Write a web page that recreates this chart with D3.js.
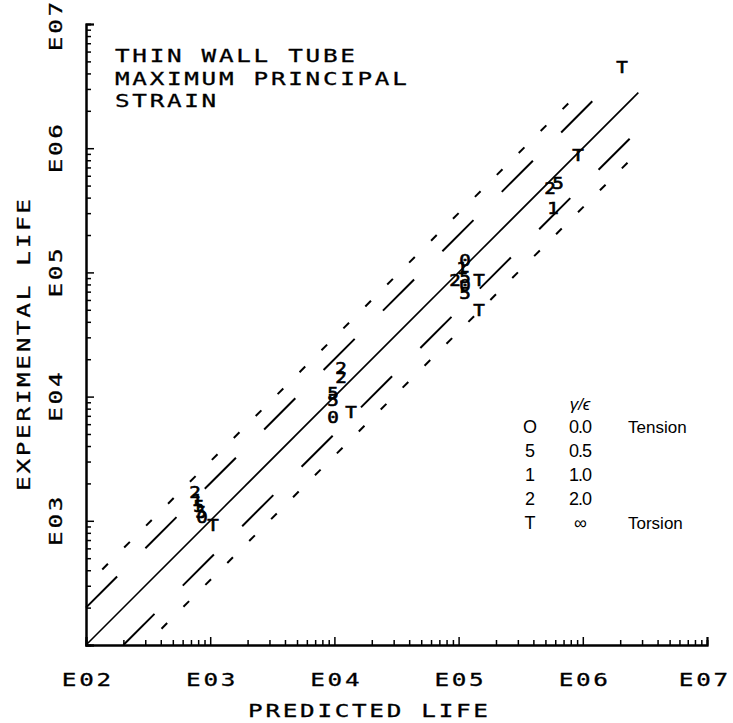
<!DOCTYPE html>
<html>
<head>
<meta charset="utf-8">
<script src="https://cdn.jsdelivr.net/npm/d3@7"></script>
<style>
  html, body { margin: 0; padding: 0; background: #fff; }
  svg { display: block; }
</style>
</head>
<body>
<svg id="chart" width="733" height="723"></svg>
<script>
// ---------------- data ----------------
const decadeValues = [1e2, 1e3, 1e4, 1e5, 1e6, 1e7];
const decadeLabels = ["E02", "E03", "E04", "E05", "E06", "E07"];
const titleLines = ["THIN WALL TUBE", "MAXIMUM PRINCIPAL", "STRAIN"];
const xTitle = "PREDICTED LIFE";
const yTitle = "EXPERIMENTAL LIFE";

// plotted symbol for each strain ratio series
const seriesSymbols = ["0", "5", "1", "2", "T"];
const legendSymbols = ["O", "5", "1", "2", "T"];
const seriesRatios = ["0.0", "0.5", "1.0", "2.0", "\u221E"];
const seriesNotes = ["Tension", "", "", "", "Torsion"];

const predicted0 = [859, 9743, 112600, 112600];
const experimental0 = [1073, 6850, 125800, 79160];
const predicted5 = [812, 843, 9743, 9743, 112600, 112600, 631400];
const experimental5 = [1316, 1177, 10690, 9390, 91830, 68270, 524600];
const predicted1 = [783, 106500, 575500];
const experimental1 = [1471, 108500, 330000];
const predicted2 = [754, 11300, 11300, 93550, 544400];
const experimental2 = [1706, 17000, 14380, 86860, 478300];
const predictedT = [1053, 13610, 146000, 146000, 915000, 2068000];
const experimentalT = [925, 7516, 86860, 49810, 881500, 4506000];

// scatter bands: experimental = factor * predicted
const bandFactors = [1, 2, 3, 0.5, 1 / 3];
const bandStyles = ["solid", "long", "short", "long", "short"];
const bandEndPredicted = [2.8e6, 1.25e6, 8.4e5, 2.95e6, 2.55e6];

// ---------------- drawing ----------------
const svg = d3.select("#chart");
const plotFont = "'DejaVu Sans Mono', monospace";
const plotSize = 18;
const plotSpacing = 2;
const plotStretch = 1.35;

function plotText(sel) {
  return sel.attr("font-family", plotFont).attr("font-size", plotSize)
    .attr("letter-spacing", plotSpacing + "px").attr("fill", "#000")
    .attr("stroke", "#000").attr("stroke-width", 0.3);
}

const x = d3.scaleLog().domain([1e2, 1e7]).range([86, 707]);
const y = d3.scaleLog().domain([1e2, 1e7]).range([645, 24]);

// minor tick values
const minorTicks = [];
for (let e = 2; e < 7; e++) for (let m = 2; m <= 9; m++) minorTicks.push(m * Math.pow(10, e));

// x axis
const xMinor = d3.axisBottom(x).tickValues(minorTicks).tickSize(-5).tickFormat("");
const xMajor = d3.axisBottom(x).tickValues(decadeValues).tickSize(-8).tickPadding(28)
  .tickFormat((d, i) => decadeLabels[i]);
const gx = svg.append("g").attr("transform", "translate(0,645)").call(xMinor);
const gx2 = svg.append("g").attr("transform", "translate(0,645)").call(xMajor);
[gx, gx2].forEach(g => {
  g.selectAll(".domain").attr("stroke", "#000").attr("stroke-width", 2);
  g.selectAll(".tick line").attr("stroke", "#000").attr("stroke-width", 1.5);
});
plotText(gx2.selectAll("text"))
  .attr("dx", plotSpacing / 2)
  .attr("transform", d => `translate(${d === 1e7 ? -4 : 0},0) scale(${plotStretch},1)`);

// y axis
const yMinor = d3.axisLeft(y).tickValues(minorTicks).tickSize(-5).tickFormat("");
const yMajor = d3.axisLeft(y).tickValues(decadeValues).tickSize(-8)
  .tickFormat((d, i) => decadeLabels[i]);
const gy = svg.append("g").attr("transform", "translate(86,0)").call(yMinor);
const gy2 = svg.append("g").attr("transform", "translate(86,0)").call(yMajor);
[gy, gy2].forEach(g => {
  g.selectAll(".domain").attr("stroke", "#000").attr("stroke-width", 2);
  g.selectAll(".tick line").attr("stroke", "#000").attr("stroke-width", 1.5);
});
gy2.selectAll(".tick").filter(d => d === 1e2).select("text").remove();
plotText(gy2.selectAll("text"))
  .attr("x", 0).attr("dy", "0.36em").attr("dx", plotSpacing / 2)
  .attr("text-anchor", "middle")
  .attr("transform", (d) => `translate(-30,${d === 1e7 ? 2 : 0}) rotate(-90) scale(${plotStretch},1)`);

// axis titles
plotText(svg.append("text"))
  .attr("transform", `translate(368,717) scale(${plotStretch},1)`)
  .attr("dx", plotSpacing / 2).attr("text-anchor", "middle").text(xTitle);
plotText(svg.append("text"))
  .attr("transform", `translate(30,345) rotate(-90) scale(${plotStretch},1)`)
  .attr("dx", plotSpacing / 2).attr("text-anchor", "middle").text(yTitle);

// chart title
plotText(svg.append("g").selectAll("text").data(titleLines).join("text"))
  .attr("transform", (d, i) => `translate(115,${62 + i * 22.5}) scale(${plotStretch},1)`)
  .text(d => d);

// bands
const dashFor = { solid: null, long: "44,40", short: "8,23" };
const offFor = { solid: 0, long: 0, short: 8 };
const line = d3.line().x(d => x(d[0])).y(d => y(d[1]));
bandFactors.forEach((k, i) => {
  const startPred = Math.max(1e2, 1e2 / k);
  const pts = [[startPred, startPred * k], [bandEndPredicted[i], bandEndPredicted[i] * k]];
  svg.append("path").attr("d", line(pts))
    .attr("fill", "none").attr("stroke", "#000")
    .attr("stroke-width", bandStyles[i] === "solid" ? 1.6 : 2)
    .attr("stroke-dasharray", dashFor[bandStyles[i]])
    .attr("stroke-dashoffset", offFor[bandStyles[i]]);
});

// data symbols
const seriesData = [
  [predicted0, experimental0],
  [predicted5, experimental5],
  [predicted1, experimental1],
  [predicted2, experimental2],
  [predictedT, experimentalT]
];
const pts = [];
seriesData.forEach((s, i) => s[0].forEach((p, j) => pts.push({ sym: seriesSymbols[i], p, e: s[1][j] })));
svg.append("g").selectAll("text").data(pts).join("text")
  .attr("transform", d => `translate(${x(d.p)},${y(d.e)}) scale(1.2,1)`)
  .attr("dy", "0.36em")
  .attr("text-anchor", "middle")
  .attr("font-family", plotFont).attr("font-size", 16)
  .attr("stroke", "#000").attr("stroke-width", 0.6)
  .text(d => d.sym);

// legend
const legendFont = "'Liberation Sans', Arial, sans-serif";
const lg = svg.append("g");
lg.append("text").attr("x", 580).attr("y", 410).attr("text-anchor", "middle")
  .attr("font-family", legendFont).attr("font-size", 17).attr("font-style", "italic")
  .text("\u03B3/\u03F5");
const rows = lg.selectAll("g.row").data(legendSymbols).join("g").attr("class", "row")
  .attr("transform", (d, i) => `translate(0,${427 + i * 24})`);
rows.append("text").attr("x", 530).attr("dy", "0.36em").attr("text-anchor", "middle")
  .attr("font-family", legendFont).attr("font-size", 18).text(d => d);
rows.append("text").attr("x", 580).attr("dy", "0.36em").attr("text-anchor", "middle")
  .attr("font-family", legendFont).attr("font-size", 18).attr("letter-spacing", "-1px")
  .text((d, i) => seriesRatios[i]);
rows.append("text").attr("x", 628).attr("dy", "0.36em")
  .attr("font-family", legendFont).attr("font-size", 17)
  .text((d, i) => seriesNotes[i]);
</script>
</body>
</html>
